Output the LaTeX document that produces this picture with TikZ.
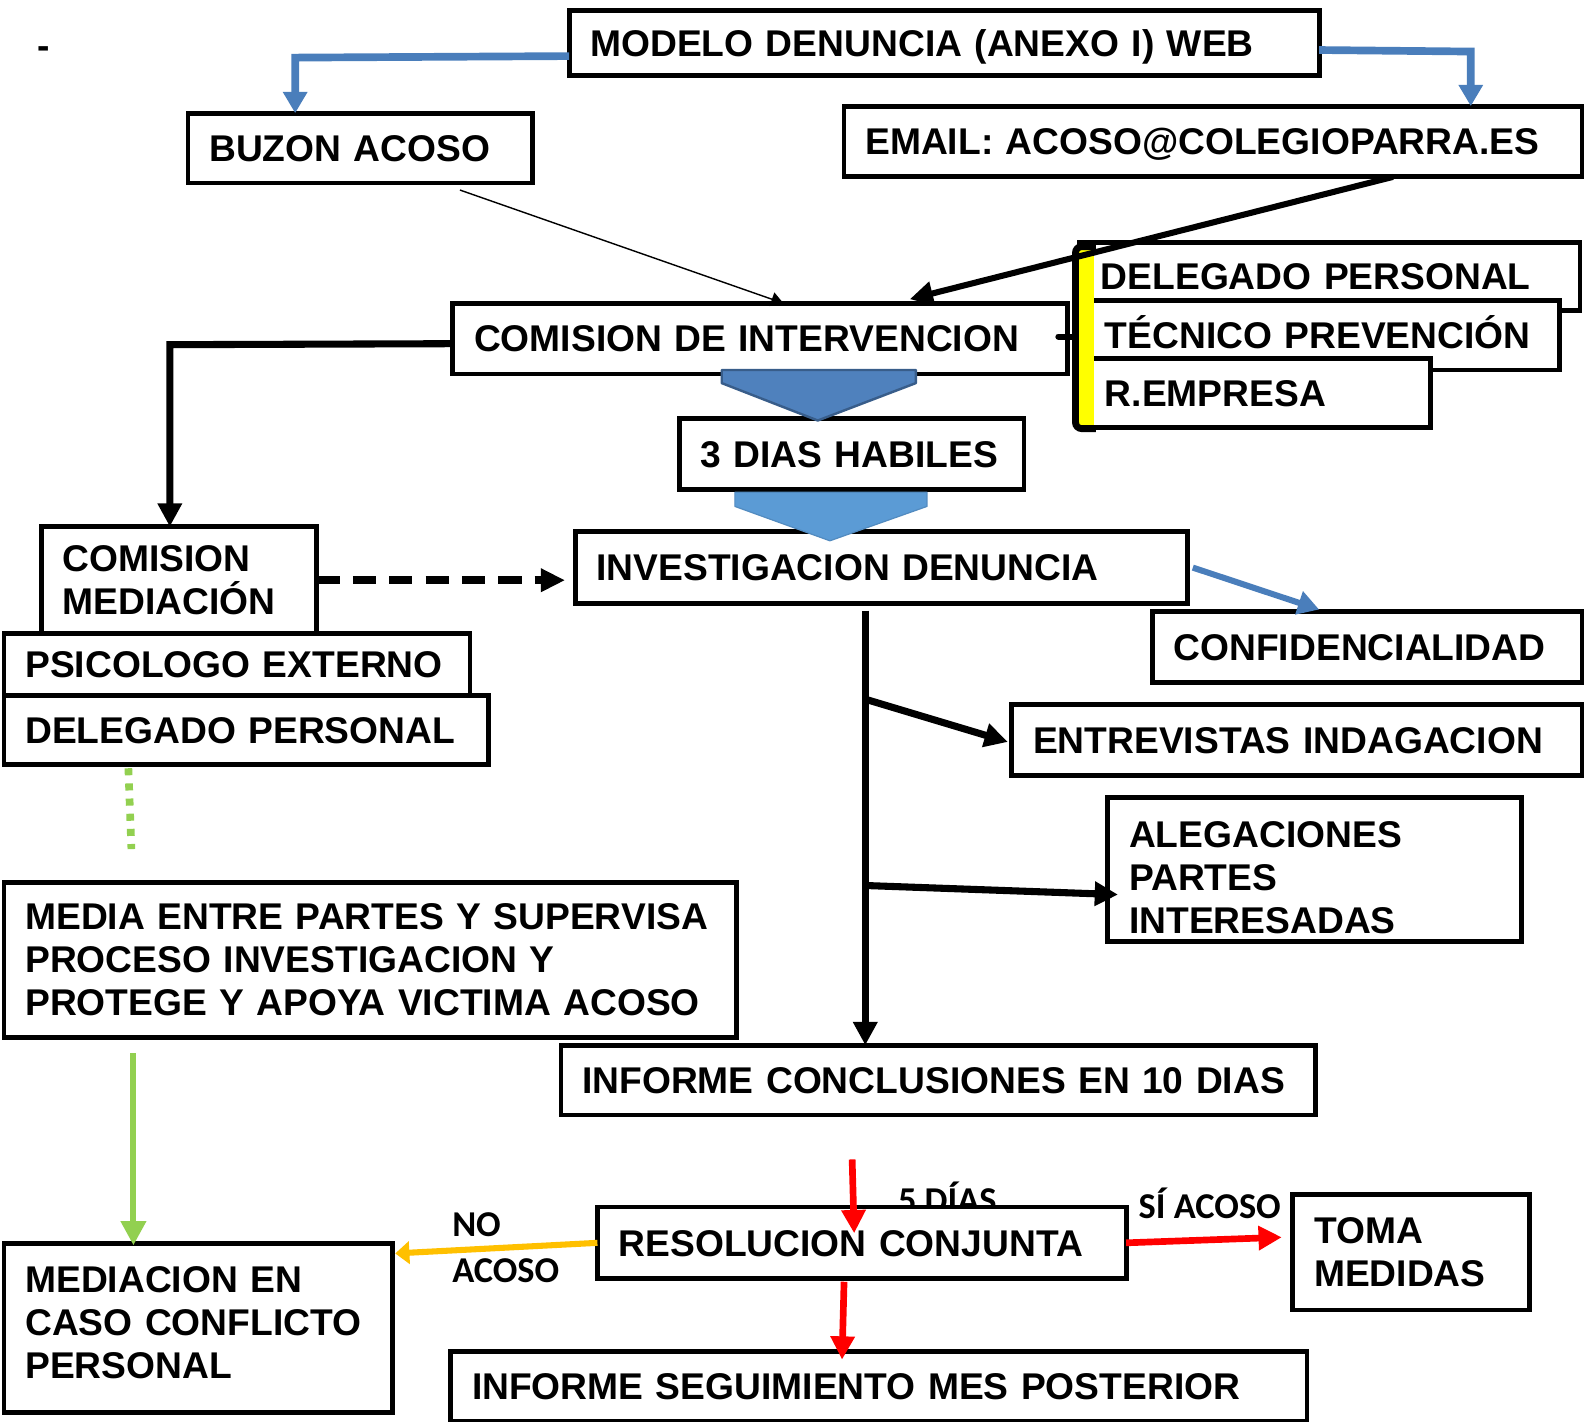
\documentclass[tikz,border=0pt]{standalone}
\usepackage{fontspec}
\setmainfont{Liberation Sans}
\newfontfamily\etiqfont{Carlito}
\usetikzlibrary{arrows.meta,calc}

\newlength{\du}
\setlength{\du}{0.5pt}

\definecolor{azulline}{RGB}{74,126,187}
\definecolor{azulflecha}{RGB}{79,129,189}
\definecolor{azulborde}{RGB}{56,93,138}
\definecolor{azulclaro}{RGB}{91,155,213}
\definecolor{verdeline}{RGB}{146,208,80}
\definecolor{naranja}{RGB}{255,192,0}
\definecolor{rojo}{RGB}{255,0,0}
\definecolor{amarillo}{RGB}{255,255,0}

\tikzset{
  caja/.style={draw=black, fill=white, line width=2.4pt, rectangle,
    inner xsep=21\du, inner ysep=0pt, outer sep=0pt, anchor=north west,
    align=left, font=\bfseries\fontsize{18.4}{21.4}\selectfont},
  unalinea/.style={text height=13.2pt, text depth=0pt},
  etiqueta/.style={inner sep=0pt, anchor=base west,
    font=\etiqfont\bfseries\fontsize{18}{23}\selectfont},
  negra/.style={draw=black, line width=3.5pt, -{Triangle[length=11.5pt,width=11.5pt]}},
  fina/.style={draw=black, line width=0.7pt, -{Triangle[length=6pt,width=7pt]}},
  azul/.style={draw=azulline, line width=3.8pt, -{Triangle[length=10.5pt,width=11.5pt]}},
  discontinua/.style={draw=black, line width=4pt, dash pattern=on 11.5pt off 6.5pt,
    -{Triangle[length=12pt,width=11pt]}},
  verdepuntos/.style={draw=verdeline, line width=3.8pt, dash pattern=on 3.5pt off 4pt},
  verde/.style={draw=verdeline, line width=3pt, -{Triangle[length=12pt,width=12pt]}},
  roja/.style={draw=rojo, line width=3.3pt, -{Triangle[length=11.5pt,width=11.5pt]}},
  amarilla/.style={draw=naranja, line width=3pt, -{Triangle[length=7pt,width=11pt]}}
}

\begin{document}
\begin{tikzpicture}[x=0.5pt, y=-0.5pt]
\useasboundingbox (0,0) rectangle (1568,1406);

% cabecera
\node[inner sep=0pt, anchor=base west, font=\bfseries\fontsize{18.4}{21.4}\selectfont] (guion) at (37,58) {-};
\node[caja, unalinea, minimum width=742\du, minimum height=65\du, text width=700\du] (modelo) at (563,10) {MODELO DENUNCIA (ANEXO I) WEB};
\node[caja, unalinea, minimum width=341\du, minimum height=69\du, text width=299\du] (buzon) at (186,112) {BUZON ACOSO};
\node[caja, unalinea, minimum width=730\du, minimum height=70\du, text width=688\du] (email) at (835,105) {EMAIL: ACOSO@COLEGIOPARRA.ES};

% comision de intervencion y miembros
\node[caja, unalinea, minimum width=608\du, minimum height=70\du, text width=566\du] (comint) at (448,300) {COMISION DE INTERVENCION};
\node[caja, unalinea, minimum width=495\du, minimum height=67\du, text width=453\du] (delper2) at (1068,240) {DELEGADO PERSONAL};
\node[caja, unalinea, minimum width=471\du, minimum height=69\du, text width=429\du] (tecnico) at (1072,297) {TÉCNICO PREVENCIÓN};
\node[caja, unalinea, minimum width=343\du, minimum height=68\du, text width=301\du] (rempresa) at (1072,355) {R.EMPRESA};
\node[caja, unalinea, minimum width=341\du, minimum height=70\du, text width=299\du] (tresdias) at (672,414) {3 DIAS HABILES};
\node[caja, unalinea, minimum width=606\du, minimum height=71\du, text width=564\du] (investig) at (569,526) {INVESTIGACION DENUNCIA};

% comision de mediacion
\node[caja, minimum width=272\du, minimum height=106\du, text width=230\du] (commed) at (41,521) {COMISION\\MEDIACIÓN};
\node[caja, unalinea, minimum width=461\du, minimum height=61\du, text width=419\du] (psico) at (4,627) {PSICOLOGO EXTERNO};
\node[caja, unalinea, minimum width=479\du, minimum height=68\du, text width=437\du] (delper1) at (4,688) {DELEGADO PERSONAL};

\node[caja, unalinea, minimum width=425\du, minimum height=70\du, text width=383\du] (confid) at (1140,605) {CONFIDENCIALIDAD};
\node[caja, unalinea, minimum width=564\du, minimum height=70\du, text width=522\du] (entrev) at (1001,697) {ENTREVISTAS INDAGACION};
\node[caja, minimum width=409\du, minimum height=142\du, text width=367\du] (alegac) at (1096,789) {\rule{0pt}{21pt}ALEGACIONES\\PARTES\\INTERESADAS};
\node[caja, minimum width=725\du, minimum height=153\du, text width=683\du] (media) at (4,873) {MEDIA ENTRE PARTES Y SUPERVISA\\PROCESO INVESTIGACION Y\\PROTEGE Y APOYA VICTIMA ACOSO};
\node[caja, unalinea, minimum width=746\du, minimum height=69\du, text width=704\du] (infconc) at (555,1034) {INFORME CONCLUSIONES EN 10 DIAS};

% resolucion
\node[etiqueta] (cincodias) at (888,1199) {5 DÍAS};
\node[etiqueta] (siacoso) at (1126,1205) {SÍ ACOSO};
\node[etiqueta] (no) at (447,1223) {NO};
\node[etiqueta] (acoso) at (447,1269) {ACOSO};
\node[caja, unalinea, minimum width=523\du, minimum height=71\du, text width=481\du] (resol) at (591,1194) {RESOLUCION CONJUNTA};
\node[caja, minimum width=234\du, minimum height=114\du, text width=192\du] (toma) at (1279,1182) {TOMA\\MEDIDAS};
\node[caja, minimum width=384\du, minimum height=167\du, text width=342\du] (medcaso) at (4,1230) {MEDIACION EN\\CASO CONFLICTO\\PERSONAL\rule[-5pt]{0pt}{5pt}};
\node[caja, unalinea, minimum width=847\du, minimum height=69\du, text width=805\du] (infseg) at (446,1337) {INFORME SEGUIMIENTO MES POSTERIOR};

% flechas bloque
\filldraw[fill=azulflecha, draw=azulborde, line width=1.2pt, line join=round] (714,366) -- (906,366) -- (906,379) -- (809,416) -- (714,379) -- cycle;
\filldraw[fill=azulclaro, draw=azulclaro!90!black, line width=0.6pt, line join=round] (727,487) -- (917,487) -- (917,501) -- (821,535) -- (727,501) -- cycle;

% llave amarilla
\fill[amarillo] (1066,245) rectangle (1082,422);
\draw[line width=3.4pt, rounded corners=3pt] (1084,244) -- (1064,244) -- (1064,424) -- (1084,424);
\coordinate (llave) at (1064,333);
\draw[line width=3pt, line cap=round] ($(comint.east)+(-9,-2)$) -- (llave);

% conectores
\coordinate (codoizq) at (292,57);
\coordinate (cododer) at (1455,51);
\draw[azul] ($(modelo.west)+(0,13)$) -- (codoizq) -- (codoizq |- buzon.north);
\draw[azul] ($(modelo.east)+(0,7)$) -- (cododer) -- (cododer |- email.north);
\draw[fina] ($(buzon.south west)+(269,7)$) -- ($(comint.north west)+(327,0)$);
\draw[negra, line width=3pt] ($(email.south west)+(543,0)$) -- ($(comint.north west)+(452,-4)$);

\coordinate (codocom) at (168,341);
\draw[negra] ($(comint.west)+(0,5)$) -- (codocom) -- (codocom |- commed.north);
\draw[discontinua] (commed.east) -- ($(commed.east -| investig.west)+(-10,0)$);
\draw[azul, line width=3pt] ($(investig.east)+(5,0)$) -- ($(confid.north west)+(165,-2)$);

\coordinate (tronco) at ($(investig.south west)+(287,7)$);
\coordinate (rama1) at (857,692);
\coordinate (rama2) at (856,876);
\draw[negra] (tronco) -- (tronco |- infconc.north);
\draw[negra] (rama1) -- ($(entrev.west)+(-4,2)$);
\draw[negra] (rama2) -- ($(alegac.west)+(10,25)$);

\coordinate (finpuntos) at (130,840);
\draw[verdepuntos] ($(delper1.south west)+(123,4)$) -- (finpuntos);
\draw[verde] ($(media.south west)+(128,16)$) -- ($(medcaso.north west)+(128,2)$);

\draw[roja] ($(infconc.south west)+(288,44)$) -- ($(resol.north west)+(254,26)$);
\draw[roja] (resol.east) -- ($(toma.west)+(-11,-15)$);
\draw[roja] ($(resol.south west)+(244,3)$) -- ($(infseg.north west)+(387,8)$);
\draw[amarilla] (resol.west) -- ($(medcaso.north east)+(3,10)$);
\end{tikzpicture}
\end{document}
